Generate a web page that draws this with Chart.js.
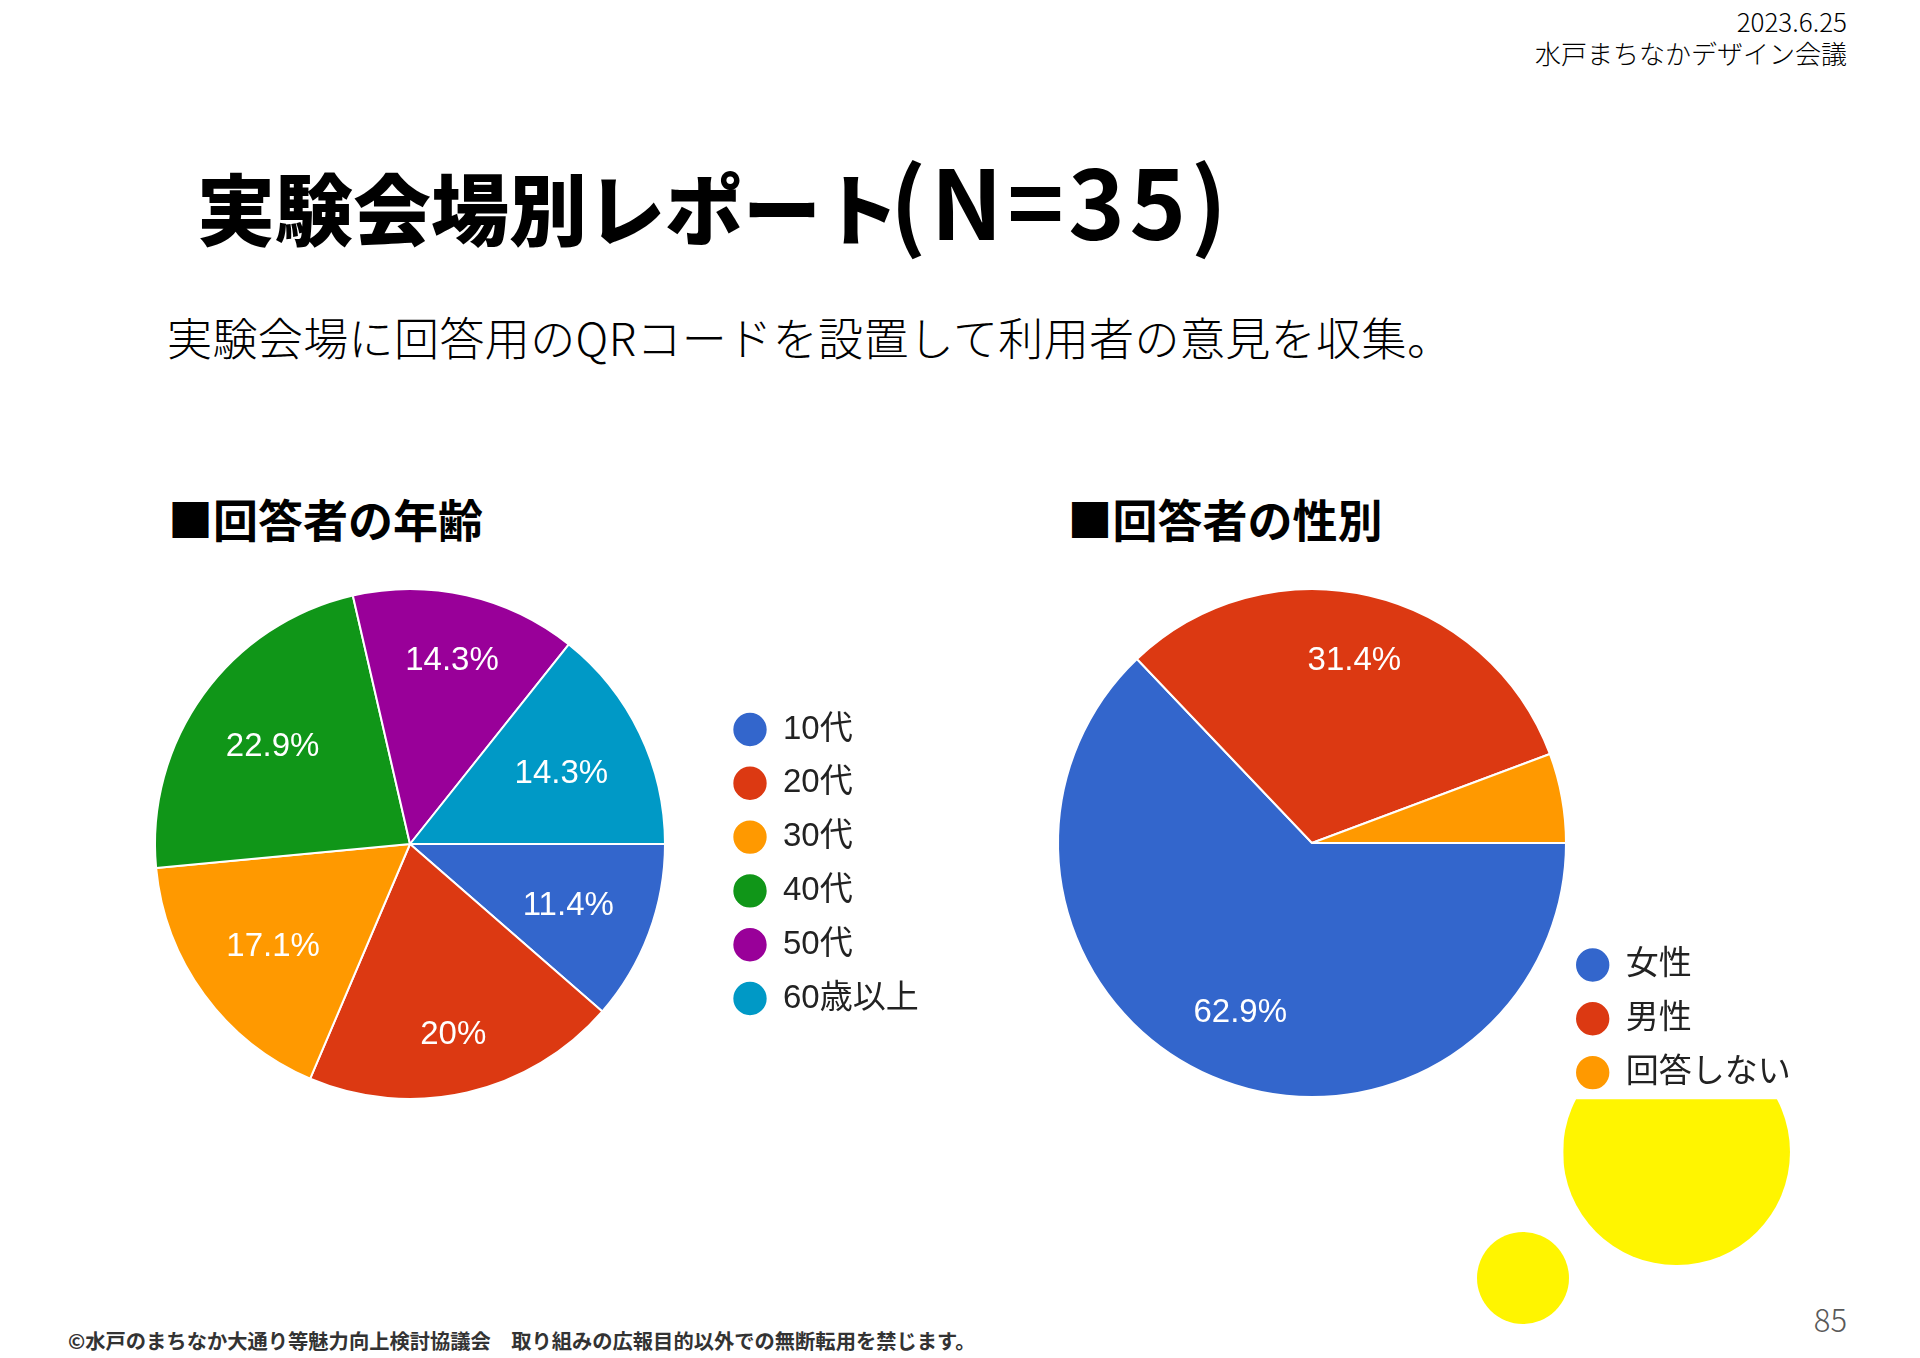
<!DOCTYPE html>
<html lang="ja">
<head>
<meta charset="utf-8">
<title>実験会場別レポート</title>
<script src="https://cdn.jsdelivr.net/npm/chart.js@4.4.0/dist/chart.umd.min.js"></script>
<style>
html,body{margin:0;padding:0;background:#fff;}
body{width:1920px;height:1358px;position:relative;overflow:hidden;font-family:"Noto Sans CJK JP","Noto Sans",sans-serif;color:#000;}
.abs{position:absolute;white-space:nowrap;}
#date{right:73px;top:4.5px;font-size:26px;line-height:32px;text-align:right;font-weight:300;}
#title{left:197px;top:155.6px;font-size:78px;line-height:100px;font-weight:900;}
#title .lat{font-size:96px;line-height:80px;margin-left:-9px;font-weight:700;letter-spacing:4.5px;}
#subtitle{left:167px;top:306.5px;font-size:45px;line-height:60px;font-weight:300;letter-spacing:0.4px;}
.hdr{top:488.5px;font-size:45px;line-height:60px;font-weight:700;}
#hdrAge{left:168px;}
#hdrGender{left:1067.5px;}
#footer{left:68px;top:1326px;font-size:20.3px;line-height:28px;font-weight:700;color:#333;}
#page{right:73px;top:1298.8px;font-size:31px;line-height:40px;font-weight:300;color:#595959;}
.dot{position:absolute;background:#fff500;border-radius:50%;}
#dotBig{left:1563.4px;top:1038.7px;width:226.6px;height:226.6px;clip-path:inset(60.6px 0 0 0);}
#dotSmall{left:1476.6px;top:1231.8px;width:92.4px;height:92.4px;}
canvas{position:absolute;}
#ageChart{left:100px;top:560px;}
#genderChart{left:1000px;top:560px;}
</style>
</head>
<body>
<div class="dot" id="dotBig"></div>
<div class="dot" id="dotSmall"></div>
<div class="abs" id="date">2023.6.25<br>水戸まちなかデザイン会議</div>
<div class="abs" id="title">実験会場別レポート<span class="lat">(N=35)</span></div>
<div class="abs" id="subtitle">実験会場に回答用のQRコードを設置して利用者の意見を収集。</div>
<div class="abs hdr" id="hdrAge">■回答者の年齢</div>
<div class="abs hdr" id="hdrGender">■回答者の性別</div>
<canvas id="ageChart" width="900" height="570"></canvas>
<canvas id="genderChart" width="900" height="570"></canvas>
<div class="abs" id="page">85</div>
<div class="abs" id="footer">©水戸のまちなか大通り等魅力向上検討協議会　取り組みの広報目的以外での無断転用を禁じます。</div>
<script>
// ---- data ----
const ageCategories = ['10代', '20代', '30代', '40代', '50代', '60歳以上'];
const agePercents = [11.4, 20, 17.1, 22.9, 14.3, 14.3];
const ageColors = ['#3366cc', '#dc3912', '#ff9900', '#109618', '#990099', '#0099c6'];

const genderCategories = ['女性', '男性', '回答しない'];
const genderPercents = [62.9, 31.4, 5.7];
const genderColors = ['#3366cc', '#dc3912', '#ff9900'];

// ---- plugins ----
const sliceLabels = {
  id: 'sliceLabels',
  afterDatasetsDraw(chart, args, opts) {
    const ctx = chart.ctx;
    const meta = chart.getDatasetMeta(0);
    const data = chart.data.datasets[0].data;
    ctx.save();
    ctx.font = opts.size + 'px ' + opts.family;
    ctx.fillStyle = opts.color;
    ctx.textAlign = 'center';
    ctx.textBaseline = 'middle';
    meta.data.forEach((arc, i) => {
      if (data[i] < opts.minValue) return;
      const p = arc.getProps(['x', 'y', 'startAngle', 'endAngle', 'outerRadius'], true);
      const mid = (p.startAngle + p.endAngle) / 2;
      const text = data[i] + '%';
      const w = ctx.measureText(text).width;
      const h = opts.size * 0.55;
      const ext = (w / 2) * Math.abs(Math.cos(mid)) + h * Math.abs(Math.sin(mid));
      const d = opts.reach * p.outerRadius - ext;
      ctx.fillText(text, p.x + d * Math.cos(mid), p.y + d * Math.sin(mid) + opts.dy);
    });
    ctx.restore();
  }
};

const legendPlacer = {
  id: 'legendPlacer',
  afterLayout(chart, args, opts) {
    const L = chart.legend;
    if (!L) return;
    const lab = L.options.labels;
    const fs = Chart.helpers.toFont(lab.font).size;
    const bw = Math.min(lab.boxWidth, fs);
    const pad = lab.padding;
    const dx = opts.x - bw / 2 - pad - L.left;
    const dy = opts.y - fs / 2 - pad - L.top;
    L.left += dx; L.right += dx; L.top += dy; L.bottom += dy;
  }
};

const fontFamily = "'Liberation Sans', Arial, 'Noto Sans CJK JP', sans-serif";

function pieConfig(labels, values, colors, padding, legendPos) {
  return {
    type: 'pie',
    data: {
      labels: labels,
      datasets: [{
        data: values,
        backgroundColor: colors,
        borderColor: '#ffffff',
        borderWidth: 2
      }]
    },
    options: {
      responsive: false,
      animation: false,
      rotation: 90,
      layout: { padding: padding },
      events: [],
      plugins: {
        tooltip: { enabled: false },
        legend: {
          position: 'chartArea',
          align: 'start',
          labels: {
            usePointStyle: true,
            pointStyle: 'circle',
            boxWidth: 33,
            boxHeight: 25,
            padding: 20.8,
            color: '#222222',
            font: { size: 33, family: fontFamily }
          }
        },
        legendPlacer: legendPos,
        sliceLabels: { size: 33, family: fontFamily, color: '#ffffff', reach: 0.855, minValue: 6, dy: 2.5 }
      }
    },
    plugins: [sliceLabels, legendPlacer]
  };
}

new Chart(document.getElementById('ageChart'),
  pieConfig(ageCategories, agePercents, ageColors,
    { left: 54, right: 334, top: 28, bottom: 30 },
    { x: 650, y: 169.5 }));

new Chart(document.getElementById('genderChart'),
  pieConfig(genderCategories, genderPercents, genderColors,
    { left: 57, right: 333, top: 28, bottom: 32 },
    { x: 592.7, y: 405 }));
</script>
</body>
</html>
